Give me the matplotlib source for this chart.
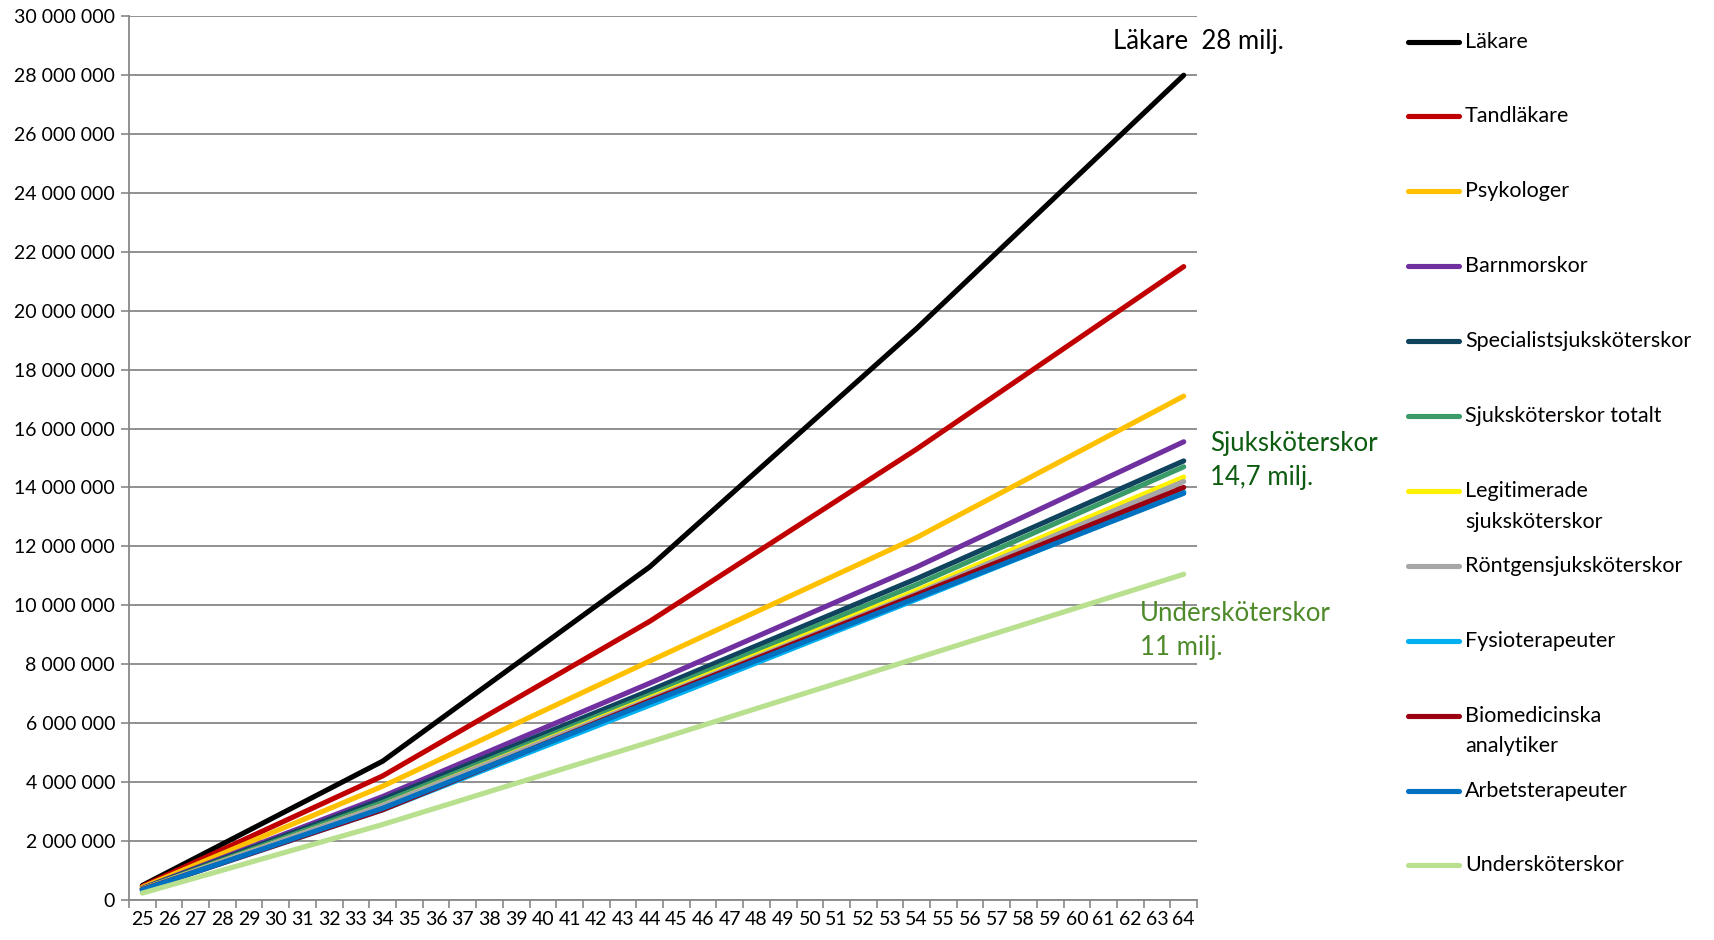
import matplotlib
matplotlib.use("Agg")
import matplotlib.pyplot as plt
from matplotlib.lines import Line2D
from matplotlib.ticker import FuncFormatter, MultipleLocator

plt.rcParams['font.family'] = ['Lato', 'DejaVu Sans']

# ålder (brytpunkter i kurvorna)
ages = [25, 34, 44, 54, 64]

# ackumulerad inkomst, miljoner kr
lakare = [0.48, 4.7, 11.3, 19.4, 28.0]
tandlakare = [0.45, 4.2, 9.45, 15.3, 21.5]
psykologer = [0.42, 3.85, 8.1, 12.3, 17.1]
barnmorskor = [0.38, 3.5, 7.35, 11.3, 15.55]
specialist = [0.37, 3.4, 7.1, 10.9, 14.9]
ssk_totalt = [0.36, 3.3, 6.95, 10.7, 14.7]
legitimerade = [0.35, 3.2, 6.85, 10.5, 14.35]
rontgen = [0.35, 3.2, 6.8, 10.4, 14.2]
fysio = [0.33, 3.05, 6.6, 10.2, 13.85]
biomed = [0.34, 3.05, 6.75, 10.35, 14.0]
arbets = [0.33, 3.1, 6.7, 10.25, 13.8]
under = [0.22, 2.55, 5.35, 8.2, 11.05]

names = ['Läkare', 'Tandläkare', 'Psykologer', 'Barnmorskor',
         'Specialistsjuksköterskor', 'Sjuksköterskor totalt',
         'Legitimerade\nsjuksköterskor', 'Röntgensjuksköterskor',
         'Fysioterapeuter', 'Biomedicinska\nanalytiker', 'Arbetsterapeuter',
         'Undersköterskor']
series = [lakare, tandlakare, psykologer, barnmorskor, specialist, ssk_totalt,
          legitimerade, rontgen, fysio, biomed, arbets, under]
colors = ['#000000', '#C00000', '#FFC000', '#7030A0', '#0F435E', '#3A9A68',
          '#FFF200', '#A6A6A6', '#00B0F0', '#990010', '#0070C0', '#B8E08E']

fig = plt.figure(figsize=(17.15, 9.4), dpi=100)
ax = fig.add_axes([0.0752, 0.043, 0.6228, 0.9396])

for vals, c in zip(series, colors):
    ax.plot(ages, [v * 1e6 for v in vals], color=c, lw=3.7,
            solid_capstyle='round', solid_joinstyle='round')

ax.set_xlim(24.5, 64.5)
ax.set_ylim(0, 30e6)
ax.yaxis.set_major_locator(MultipleLocator(2e6))
ax.yaxis.set_major_formatter(FuncFormatter(lambda v, p: f"{int(v):,}".replace(',', ' ')))
ax.set_xticks(range(25, 65))
ax.set_xticks([a + 0.5 for a in range(24, 65)], minor=True)
ax.tick_params(axis='x', which='major', length=0, pad=8, labelsize=14)
ax.tick_params(axis='x', which='minor', length=6, width=1.2, color='#888888')
ax.tick_params(axis='y', length=6, width=1.2, color='#888888', labelsize=14, pad=4)

ax.grid(axis='y', color='#888888', lw=1.3)
ax.set_axisbelow(True)
for s in ['top', 'right']:
    ax.spines[s].set_visible(False)
for s in ['left', 'bottom']:
    ax.spines[s].set_color('#888888')
    ax.spines[s].set_linewidth(1.3)

# etiketter i diagrammet
ax.text(61.35, 29.15e6, 'Läkare  28 milj.', fontsize=18.5, color='black', va='center')
ax.text(65.0, 14.9e6, 'Sjuksköterskor\n14,7 milj.', fontsize=18.5, color='#0E5C12',
        va='center', linespacing=1.45)
ax.text(62.36, 9.15e6, 'Undersköterskor\n11 milj.', fontsize=18.5, color='#4E8A2A',
        va='center', linespacing=1.45)

# förklaring
y0 = 1 - 41.5 / 940
dy = 74.9 / 940
ld = 30.6 / 940
for i, (n, c) in enumerate(zip(names, colors)):
    y = y0 - i * dy
    fig.add_artist(Line2D([1408 / 1715, 1459 / 1715], [y, y], color=c, lw=3.7,
                          solid_capstyle='round', transform=fig.transFigure))
    for j, part in enumerate(n.split('\n')):
        fig.text(1465 / 1715, y - j * ld, part, fontsize=15.5, va='center', ha='left')

fig.savefig('out.png', dpi=100)
